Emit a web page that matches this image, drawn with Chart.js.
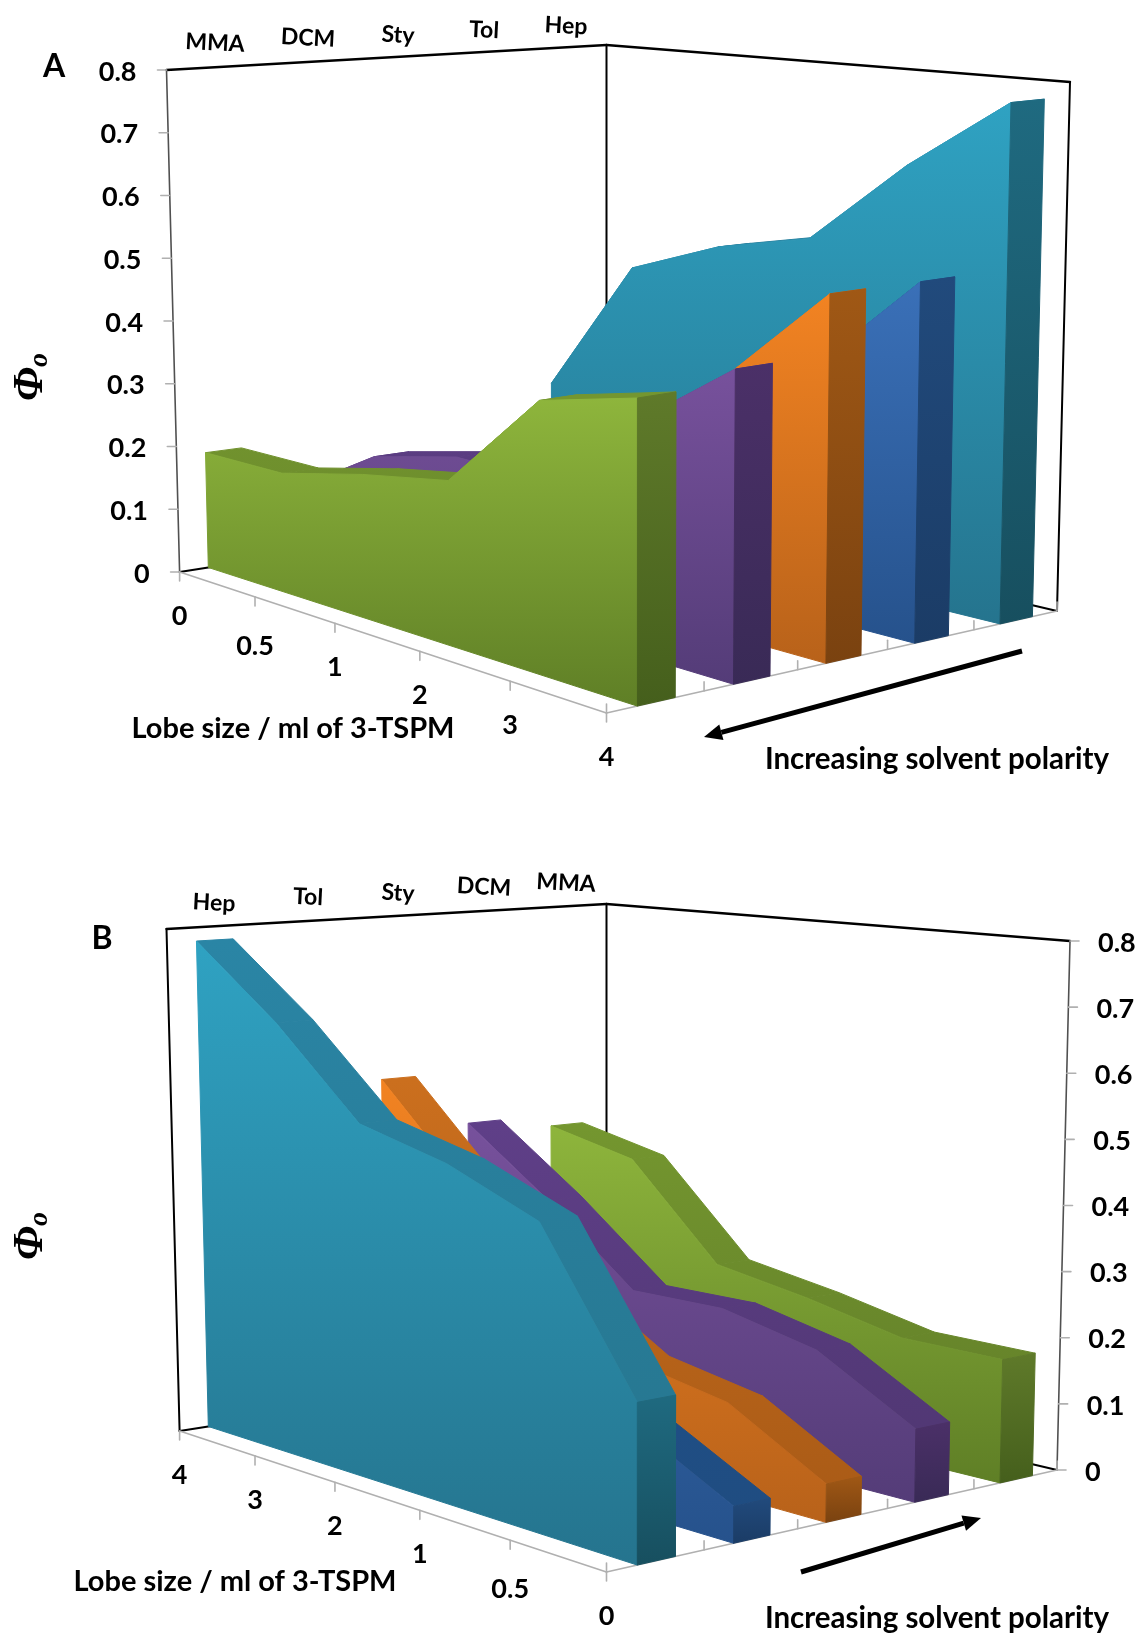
<!DOCTYPE html>
<html>
<head>
<meta charset="utf-8">
<title>Lobe size vs solvent polarity</title>
<script src="https://cdn.jsdelivr.net/npm/chart.js@4"></script>
<style>
    html, body { margin: 0; padding: 0; background: #fff; }
    canvas { display: block; }
</style>
</head>
<body>
<canvas id="chartA" width="1142" height="859"></canvas>
<canvas id="chartB" width="1142" height="775"></canvas>
<script>
// data, one value per lobe size
let lobeSizes = ['0', '0.5', '1', '2', '3', '4'];
let solvents = ['MMA', 'DCM', 'Sty', 'Tol', 'Hep'];
let valueTicks = [0, 0.1, 0.2, 0.3, 0.4, 0.5, 0.6, 0.7, 0.8];
let valueMAX = 0.8;

let mma = [0.184, 0.185, 0.217, 0.242, 0.39, 0.424];
let dcm = [0.107, 0.19, 0.222, 0.22, 0.338, 0.443];
let sty = [0.055, 0.136, 0.162, 0.25, 0.387, 0.53];
let tol = [0.052, 0.126, 0.17, 0.25, 0.383, 0.529];
let hep = [0.224, 0.444, 0.5, 0.534, 0.667, 0.778];

// colours: [face top, face bottom, side top, side bottom, slope top, slope bottom]
let styles = {
    MMA: ['#8eb53c', '#5f7f26', '#5f7a2a', '#455f1c', '#74962f', '#607c28'],
    DCM: ['#77519c', '#543c78', '#4b3068', '#392a56', '#5f3f88', '#4e3670'],
    Sty: ['#f28322', '#b8621a', '#a05815', '#7a4210', '#cb6f1e', '#a85a16'],
    Tol: ['#3a70b8', '#26528c', '#214a7c', '#1b3c66', '#215490', '#1f4c80'],
    Hep: ['#2fa2c2', '#25748e', '#1f6a80', '#174f5f', '#2a85a5', '#26748c']
};
let values = { MMA: mma, DCM: dcm, Sty: sty, Tol: tol, Hep: hep };

// corners of the box, in scale units of the canvas
let floorL = [179.6, 572], floorF = [606.5, 713], floorB = [606.5, 505], floorR = [1057, 611];
let topL = [166.5, 70], topF = [606, 128], topB = [606.5, 45], topR = [1070, 82];
let depthL = 1 / 502, depthF = 1 / 585, depthB = 1 / 460, depthR = 1 / 529;

// u runs along the lobe axis, v runs into the picture
function project(u, v, value) {
    let wL = (1 - u) * (1 - v) * depthL;
    let wF = u * (1 - v) * depthF;
    let wB = (1 - u) * v * depthB;
    let wR = u * v * depthR;
    let sum = wL + wF + wB + wR;
    let t = value / valueMAX;
    let out = [0, 0];
    for (let k = 0; k < 2; k++) {
        let low = (wL * floorL[k] + wF * floorF[k] + wB * floorB[k] + wR * floorR[k]) / sum;
        let high = (wL * topL[k] + wF * topF[k] + wB * topB[k] + wR * topR[k]) / sum;
        out[k] = low + (high - low) * t;
    }
    return { x: out[0], y: out[1] };
}

// y scale runs 0..canvas height, so scale units are pixels here
function gradientFill(colorTop, colorBottom, span) {
    return (c) => {
        let ys = (span || c.dataset.data).map(p => p.y);
        let g = c.chart.ctx.createLinearGradient(0, Math.min(...ys), 0, Math.max(...ys));
        g.addColorStop(0, colorTop);
        g.addColorStop(1, colorBottom);
        return g;
    };
}

// the thin border of the same colour closes the seams between faces
function face(points, color) {
    return {
        data: points.concat([points[0]]),
        fill: 'shape',
        backgroundColor: color,
        borderColor: color,
        borderWidth: 1,
        pointRadius: 0,
        tension: 0
    };
}

// builds the faces of all series, back to front, then flips them for Chart.js
function buildDatasets(lobeOrder, solventOrder) {
    let sets = [];
    let n = lobeOrder.length - 1;
    for (let slot = solventOrder.length - 1; slot >= 0; slot--) {
        let name = solventOrder[slot];
        let st = styles[name];
        let v0 = (slot + 0.31) / solventOrder.length;
        let v1 = (slot + 0.70) / solventOrder.length;
        let vals = lobeOrder.map(i => values[name][i]);
        let front = vals.map((val, i) => project(i / n, v0, val));
        front.push(project(1, v0, 0));
        front.push(project(0, v0, 0));
        for (let i = 0; i < n; i++) {
            sets.push(face([
                project(i / n, v0, vals[i]),
                project((i + 1) / n, v0, vals[i + 1]),
                project((i + 1) / n, v1, vals[i + 1]),
                project(i / n, v1, vals[i])
            ], gradientFill(st[4], st[5], front)));
        }
        sets.push(face(front, gradientFill(st[0], st[1])));
        sets.push(face([
            project(1, v0, vals[n]),
            project(1, v1, vals[n]),
            project(1, v1, 0),
            project(1, v0, 0)
        ], gradientFill(st[2], st[3])));
    }
    return sets.reverse();
}

function strokeLine(ctx, a, b, color, width) {
    ctx.strokeStyle = color;
    ctx.lineWidth = width;
    ctx.beginPath();
    ctx.moveTo(a.x, a.y);
    ctx.lineTo(b.x, b.y);
    ctx.stroke();
}

function text(ctx, str, x, y, font, align, angle) {
    ctx.save();
    ctx.translate(x, y);
    ctx.rotate(angle || 0);
    ctx.font = font;
    ctx.textAlign = align || 'center';
    ctx.textBaseline = 'middle';
    ctx.fillStyle = '#000';
    ctx.fillText(str, 0, 0);
    ctx.restore();
}

function arrow(ctx, from, to) {
    let ang = Math.atan2(to.y - from.y, to.x - from.x);
    let neck = { x: to.x - 18 * Math.cos(ang), y: to.y - 18 * Math.sin(ang) };
    strokeLine(ctx, from, neck, '#000', 5);
    ctx.fillStyle = '#000';
    ctx.beginPath();
    ctx.moveTo(to.x, to.y);
    ctx.lineTo(neck.x + 8 * Math.sin(ang), neck.y - 8 * Math.cos(ang));
    ctx.lineTo(neck.x - 8 * Math.sin(ang), neck.y + 8 * Math.cos(ang));
    ctx.closePath();
    ctx.fill();
}

// box, ticks and labels of one panel
function boxPlugin(cfg) {
    let GRAY = '#b0b0b0', AXIS = '#505050', BOLD = 'bold 27px Lato';
    return {
        id: 'box' + cfg.letter,
        beforeDatasetsDraw(chart) {
            let ctx = chart.ctx;
            let sx = chart.scales.x, sy = chart.scales.y;
            let pt = (u, v, z) => {
                let p = project(u, v, z);
                return { x: sx.getPixelForValue(p.x), y: sy.getPixelForValue(p.y) };
            };
            ctx.save();
            ctx.lineCap = 'round';
            // back walls
            strokeLine(ctx, pt(0, 0, valueMAX), pt(0, 1, valueMAX), '#000', 2.4);
            strokeLine(ctx, pt(0, 1, valueMAX), pt(1, 1, valueMAX), '#000', 2.4);
            strokeLine(ctx, pt(0, 1, 0), pt(0, 1, valueMAX), '#000', 2);
            strokeLine(ctx, pt(0, 0, 0), pt(0, 1, 0), '#000', 2);
            strokeLine(ctx, pt(0, 1, 0), pt(1, 1, 0), '#000', 2);
            let au = cfg.axisAtRight ? 1 : 0;
            strokeLine(ctx, pt(1 - au, 1 - au, 0), pt(1 - au, 1 - au, valueMAX), '#000', 2);
            strokeLine(ctx, pt(au, au, 0), pt(au, au, valueMAX), AXIS, 1.6);
            // floor edges
            strokeLine(ctx, pt(0, 0, 0), pt(1, 0, 0), GRAY, 1.6);
            strokeLine(ctx, pt(1, 0, 0), pt(1, 1, 0), GRAY, 1.6);
            let n = lobeSizes.length - 1;
            for (let i = 0; i <= n; i++) {
                let p = pt(i / n, 0, 0);
                strokeLine(ctx, p, { x: p.x, y: p.y + 9 }, GRAY, 1.6);
            }
            for (let s = 0; s <= solvents.length; s++) {
                let p = pt(1, s / solvents.length, 0);
                strokeLine(ctx, p, { x: p.x, y: p.y - 9 }, GRAY, 1.6);
            }
            // value ticks
            valueTicks.forEach(t => {
                let p = pt(au, au, t);
                let dir = cfg.axisAtRight ? 1 : -1;
                strokeLine(ctx, p, { x: p.x + dir * 9, y: p.y }, GRAY, 1.6);
            });
            ctx.restore();
        },
        afterDraw(chart) {
            let ctx = chart.ctx;
            let sx = chart.scales.x, sy = chart.scales.y;
            let pt = (u, v, z) => {
                let p = project(u, v, z);
                return { x: sx.getPixelForValue(p.x), y: sy.getPixelForValue(p.y) };
            };
            let au = cfg.axisAtRight ? 1 : 0;
            valueTicks.forEach(t => {
                let p = pt(au, au, t);
                if (cfg.axisAtRight) text(ctx, String(t), p.x + 28, p.y + 2, BOLD, 'left');
                else text(ctx, String(t), p.x - 30, p.y + 2, BOLD, 'right');
            });
            let n = cfg.lobeOrder.length - 1;
            cfg.lobeOrder.forEach((lobe, i) => {
                let p = pt(i / n, 0, 0);
                let drop = lobeSizes[lobe] === '0.5' ? 49 : 44;
                text(ctx, lobeSizes[lobe], p.x, p.y + drop, BOLD);
            });
            cfg.solventOrder.forEach((name, i) => {
                let q = cfg.solventPos[i];
                text(ctx, name, q[0], q[1], 'bold 23px Lato', 'center', 0.05);
            });
            text(ctx, cfg.letter, cfg.letterPos[0], cfg.letterPos[1], 'bold 32px Lato');
            text(ctx, 'Lobe size / ml of 3-TSPM', cfg.lobeTitle[0], cfg.lobeTitle[1], 'bold 29px Lato');
            text(ctx, 'Increasing solvent polarity', 937, 759, 'bold 29.5px Lato');
            // rotated quantity symbol
            ctx.save();
            ctx.translate(31, cfg.phiY);
            ctx.rotate(-Math.PI / 2);
            ctx.font = 'italic bold 43px "Liberation Serif"';
            ctx.textAlign = 'left';
            ctx.textBaseline = 'middle';
            ctx.fillStyle = '#000';
            ctx.fillText('Φ', 0, 0);
            let w = ctx.measureText('Φ').width;
            ctx.font = 'italic bold 28px "Liberation Serif"';
            ctx.fillText('o', w, 9);
            ctx.restore();
            arrow(ctx, cfg.arrowFrom, cfg.arrowTo);
        }
    };
}

function makeChart(id, cfg) {
    let el = document.getElementById(id);
    return new Chart(el.getContext('2d'), {
        type: 'line',
        data: { datasets: buildDatasets(cfg.lobeOrder, cfg.solventOrder) },
        options: {
            responsive: false,
            animation: false,
            layout: { padding: 0 },
            plugins: {
                legend: { display: false },
                tooltip: { enabled: false },
                filler: { drawTime: 'beforeDatasetDraw' }
            },
            scales: {
                x: { type: 'linear', display: false, min: 0, max: el.width },
                y: { type: 'linear', display: false, min: 0, max: el.height, reverse: true }
            }
        },
        plugins: [boxPlugin(cfg)]
    });
}

makeChart('chartA', {
    letter: 'A',
    letterPos: [54, 67],
    lobeOrder: [0, 1, 2, 3, 4, 5],
    solventOrder: ['MMA', 'DCM', 'Sty', 'Tol', 'Hep'],
    solventPos: [[215, 43], [308, 38], [398, 35], [484, 30], [566, 26]],
    lobeTitle: [293, 729],
    phiY: 401,
    arrowFrom: { x: 1022, y: 651 },
    arrowTo: { x: 704, y: 737 },
    axisAtRight: false
});

makeChart('chartB', {
    letter: 'B',
    letterPos: [102, 80],
    lobeOrder: [5, 4, 3, 2, 1, 0],
    solventOrder: ['Hep', 'Tol', 'Sty', 'DCM', 'MMA'],
    solventPos: [[214, 44], [308, 38], [398, 34], [484, 28], [566, 24]],
    lobeTitle: [235, 723],
    phiY: 401,
    arrowFrom: { x: 801, y: 713 },
    arrowTo: { x: 981, y: 659 },
    axisAtRight: true
});
</script>
</body>
</html>
